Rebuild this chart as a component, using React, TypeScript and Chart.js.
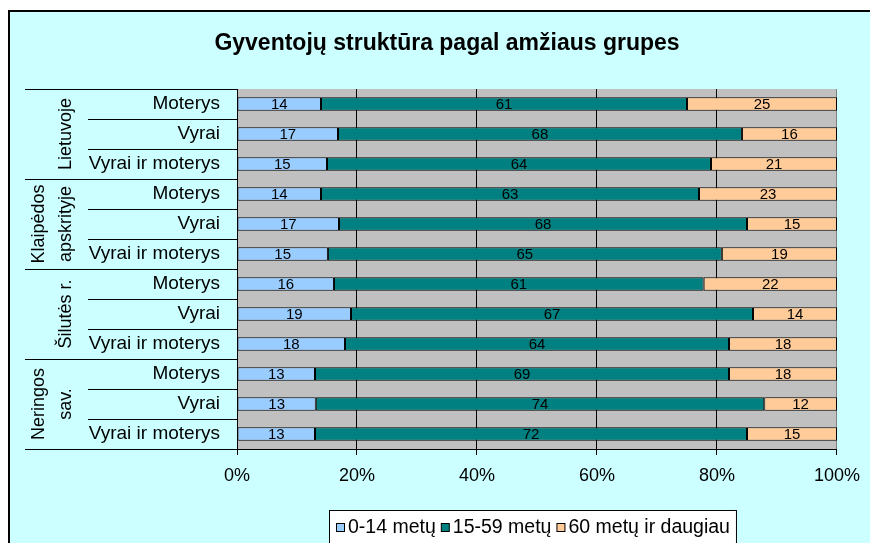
import React, { useEffect, useRef } from "react";
import { Chart, registerables } from "chart.js";

Chart.register(...registerables);

const titleText = "Gyventojų struktūra pagal amžiaus grupes";
const groupLabels: string[][] = [["Lietuvoje"], ["Klaipėdos", "apskrityje"], ["Šilutės r."], ["Neringos", "sav."]];
const subLabels = ["Moterys", "Vyrai", "Vyrai ir moterys"];
const seriesNames = ["0-14 metų", "15-59 metų", "60 metų ir daugiau"];
const age0to14 = [14, 17, 15, 14, 17, 15, 16, 19, 18, 13, 13, 13];
const age15to59 = [61, 68, 64, 63, 68, 65, 61, 67, 64, 69, 74, 72];
const age60plus = [25, 16, 21, 23, 15, 19, 22, 14, 18, 18, 12, 15];
const seriesColors = ["#99CCFF", "#008080", "#FFCC99"];

const FONT = "'Liberation Sans', Arial, sans-serif";

export default function App() {
  const ref = useRef<HTMLCanvasElement | null>(null);

  useEffect(() => {
    if (!ref.current) return;
    const categories = groupLabels.flatMap(() => subLabels);
    const raw = [age0to14, age15to59, age60plus];
    const totals = age0to14.map((_, i) => raw.reduce((s, a) => s + a[i], 0));
    const pct = raw.map((arr) => arr.map((v, i) => (v / totals[i]) * 100));

    const customPlugin = {
      id: "custom",
      beforeDraw(chart: any) {
        const { ctx, chartArea: a } = chart;
        ctx.save();
        ctx.fillStyle = "#C0C0C0";
        ctx.fillRect(a.left, a.top, a.right - a.left, a.bottom - a.top);
        ctx.restore();
      },
      afterDatasetsDraw(chart: any) {
        const { ctx } = chart;
        ctx.save();
        ctx.font = `15px ${FONT}`;
        ctx.fillStyle = "#000";
        ctx.textAlign = "center";
        ctx.textBaseline = "middle";
        chart.data.datasets.forEach((ds: any, di: number) => {
          const meta = chart.getDatasetMeta(di);
          meta.data.forEach((el: any, i: number) => {
            const x = (el.x + el.base) / 2;
            ctx.fillText(String(raw[di][i]), x, el.y + 1);
          });
        });
        ctx.restore();
      },
      afterDraw(chart: any) {
        const { ctx, chartArea: a } = chart;
        ctx.save();
        // title
        ctx.font = `bold 23px ${FONT}`;
        ctx.fillStyle = "#000";
        ctx.textAlign = "center";
        ctx.textBaseline = "middle";
        ctx.fillText(titleText, 437, 32);

        // separators & group labels
        const n = categories.length;
        const rowH = (a.bottom - a.top) / n;
        ctx.strokeStyle = "#000";
        ctx.lineWidth = 1;
        for (let i = 0; i <= n; i++) {
          const y = Math.round(a.top + i * rowH) + 0.5;
          const x0 = i % subLabels.length === 0 ? 15 : 78;
          ctx.beginPath();
          ctx.moveTo(x0, y);
          ctx.lineTo(a.left, y);
          ctx.stroke();
        }
        ctx.font = `18px ${FONT}`;
        ctx.textAlign = "center";
        ctx.textBaseline = "middle";
        groupLabels.forEach((lines, g) => {
          const cy = a.top + (g * subLabels.length + subLabels.length / 2) * rowH;
          lines.forEach((line, li) => {
            const cx = 56 - (lines.length - 1 - li) * 27;
            ctx.save();
            ctx.translate(cx, cy);
            ctx.rotate(-Math.PI / 2);
            ctx.fillText(line, 0, 0);
            ctx.restore();
          });
        });

        // legend
        ctx.font = `19.5px ${FONT}`;
        const boxL = 319, boxT = 498;
        const widths = seriesNames.map((s) => ctx.measureText(s).width);
        let total = 7 + 6;
        widths.forEach((w, i) => (total += 12 + w + (i < widths.length - 1 ? 5 : 0)));
        ctx.fillStyle = "#fff";
        ctx.fillRect(boxL + 0.5, boxT + 0.5, total, 60);
        ctx.strokeStyle = "#000";
        ctx.strokeRect(boxL + 0.5, boxT + 0.5, total, 60);
        let x = boxL + 7;
        const cy = 515;
        ctx.textAlign = "left";
        seriesNames.forEach((s, i) => {
          ctx.fillStyle = seriesColors[i];
          ctx.fillRect(x + 0.5, cy - 4 + 0.5, 8, 8);
          ctx.strokeStyle = "#000";
          ctx.strokeRect(x + 0.5, cy - 4 + 0.5, 8, 8);
          x += 12;
          ctx.fillStyle = "#000";
          ctx.fillText(s, x, cy + 1);
          x += widths[i] + 5;
        });
        ctx.restore();
      },
    };

    const chart = new Chart(ref.current, {
      type: "bar",
      data: {
        labels: categories,
        datasets: seriesNames.map((name, i) => ({
          label: name,
          data: pct[i],
          backgroundColor: seriesColors[i],
          borderColor: "#000",
          borderWidth: 1,
          borderSkipped: false,
          barPercentage: 0.9,
          categoryPercentage: 0.5,
        })),
      },
      options: {
        indexAxis: "y",
        animation: false,
        responsive: false,
        maintainAspectRatio: false,
        layout: { padding: { top: 77, right: 33, left: 0, bottom: 0 } },
        plugins: {
          legend: { display: false },
          title: { display: false },
          tooltip: { enabled: false },
        },
        scales: {
          x: {
            stacked: true,
            min: 0,
            max: 100,
            ticks: {
              stepSize: 20,
              callback: (v: any) => v + "%",
              color: "#000",
              font: { family: FONT, size: 18 },
              padding: 10,
              maxRotation: 0,
            },
            grid: {
              color: (c: any) => (c.index === 5 ? "#808080" : "#000"),
              lineWidth: 1,
              drawTicks: true,
              tickLength: 6,
              tickColor: "#000",
            },
            border: { display: true, color: "#000" },
            afterFit: (s: any) => {
              s.height = 94;
            },
          },
          y: {
            stacked: true,
            ticks: {
              color: "#000",
              font: { family: FONT, size: 19 },
              padding: 17,
              autoSkip: false,
            },
            grid: { display: false, drawTicks: false },
            border: { display: true, color: "#000" },
            afterFit: (s: any) => {
              s.width = 227;
            },
          },
        },
      },
      plugins: [customPlugin],
    } as any);
    return () => chart.destroy();
  }, []);

  return (
    <div
      style={{
        position: "fixed",
        left: 8,
        top: 10,
        width: 862,
        height: 533,
        background: "#CCFFFF",
        borderLeft: "2px solid #000",
        borderTop: "2px solid #000",
        overflow: "hidden",
      }}
    >
      <canvas ref={ref} width={860} height={531} style={{ display: "block" }} />
    </div>
  );
}
